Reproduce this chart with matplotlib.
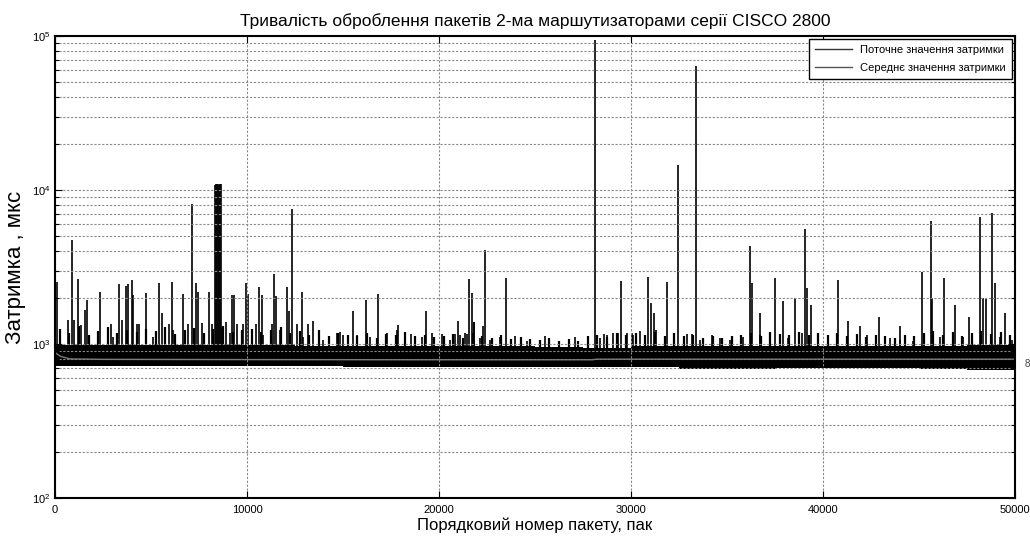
import matplotlib
matplotlib.use("Agg")
import matplotlib.pyplot as plt
from matplotlib.lines import Line2D
from matplotlib.ticker import LogLocator, NullFormatter, FixedLocator
import numpy as np

plt.rcParams['font.family'] = ['Liberation Sans', 'DejaVu Sans']

# ---------------- data ----------------
title = "Тривалість оброблення пакетів 2-ма маршутизаторами серії CISCO 2800"
xlabel = "Порядковий номер пакету, пак"
ylabel = "Затримка , мкс"
legend_labels = ["Поточне значення затримки", "Середнє значення затримки"]
x_ticks = [0, 10000, 20000, 30000, 40000, 50000]

# dense noise band, per 2500-packet bin (edges 0..50000)
band_edges = [0, 2500, 5000, 7500, 10000, 12500, 15000, 17500, 20000, 22500,
              25000, 27500, 30000, 32500, 35000, 37500, 40000, 42500, 45000,
              47500, 50000]
band_low = [715, 715, 715, 718, 715, 715, 712, 712, 710, 708,
            705, 708, 705, 690, 685, 700, 700, 698, 688, 680]
band_high = [990, 985, 985, 980, 980, 975, 970, 970, 975, 965,
             955, 945, 970, 975, 970, 975, 975, 970, 975, 980]

# upper fringe of the noise, one value per 500-packet bin (centres 250, 750, ...)
fringe_y = [1250, 1180, 1300, 1150, 1220, 1280, 1170, 1240, 1190, 1260,
            1210, 1290, 1160, 1230, 1270, 1180, 1250, 1300, 1200, 1240,
            1260, 1190, 1230, 1280, 1170, 1220, 1150, 1240, 1130, 1180,
            1150, 1120, 1180, 1100, 1160, 1140, 1190, 1120, 1150, 1110,
            1130, 1160, 1100, 1180, 1120, 1090, 1140, 1080, 1110, 1070,
            1060, 1100, 1040, 1080, 1050, 1120, 1150, 1110, 1170, 1140,
            1180, 1150, 1200, 1130, 1170, 1120, 1150, 1090, 1130, 1100,
            1120, 1150, 1180, 1130, 1200, 1160, 1140, 1190, 1150, 1170,
            1140, 1180, 1120, 1160, 1110, 1150, 1130, 1100, 1140, 1120,
            1170, 1210, 1150, 1190, 1130, 1180, 1220, 1160, 1200, 1150]

# mean (running average) line
mean_x = [0, 300, 800, 2500, 10000, 20000, 28000, 28200, 35000, 50000]
mean_y = [880, 830, 800, 795, 792, 790, 790, 797, 797, 797]

# large spikes (packet number, delay)
spike_x = [90, 870, 1215, 1650, 2340, 3330, 3680, 3780, 3990, 4080, 4720,
           5420, 6080, 6680, 7150, 7330, 7470, 8020,
           8330, 8380, 8430, 8480, 8530, 8580, 8620,
           9240, 9340, 9930, 10030, 10640, 10760, 11400, 11500, 12080, 12170,
           12360, 12850, 13420, 15500, 16200, 16840, 17850, 19320, 20970,
           21580, 21700, 21820, 22400, 23490, 28130, 29480, 30870, 31040,
           31200, 31870, 32470, 33380, 36200, 36300, 36700, 37500, 37900,
           38550, 39050, 39150, 39400, 40780, 41320, 42900, 44000, 45150,
           45600, 45700, 46300, 46900, 47600, 48200, 48350, 48500, 48800,
           48950, 49500]
spike_y = [2540, 4730, 2640, 1930, 2190, 2450, 2380, 2450, 2600, 2090, 2140,
           2480, 2520, 2120, 8110, 2480, 2190, 2190,
           10700, 10900, 10950, 10900, 10850, 10950, 10900,
           2090, 2090, 2480, 2120, 2330, 2090, 2830, 2060, 2330, 1650,
           7500, 2190, 1400, 1630, 1930, 2120, 1330, 1630, 1400,
           2640, 2140, 1380, 4070, 2700, 94000, 2580, 2730, 1850,
           1600, 2520, 14500, 63500, 4330, 2500, 1600, 2700, 1900,
           2000, 5600, 2300, 1800, 2600, 1400, 1500, 1300, 2950,
           6300, 2000, 2700, 1800, 1500, 6700, 2000, 2000, 7100,
           2500, 1600]

# medium spikes just above the band
mid_x = [660, 1010, 1350, 1560, 2900, 3040, 3470, 4250, 4370, 5120, 5560,
         5940, 6160, 6940, 7640, 8160, 8720, 8900, 9110, 9460, 9810, 10470,
         10850, 11290, 11720, 12590, 12930, 13160, 13970, 14670, 14840,
         15020, 15710, 16400, 17270, 17790, 18540, 19100, 19620, 20140,
         20570, 20830, 21090, 21350, 21470, 21840, 22140, 22310, 22660,
         23180, 23960, 24570, 25520, 27080, 28390, 28610, 28730, 29080,
         29340, 29770, 30030, 30120, 30470, 31300, 32900, 33160, 33590,
         34200, 34640, 35160, 35850, 36720, 37240, 38190, 38890, 40710,
         41930, 42270, 43490, 44010, 44700, 46090, 46790, 47310, 49220,
         49830]
mid_y = [1430, 1430, 1330, 1660, 1340, 1116, 1430, 1350, 1350, 1116, 1600,
         1350, 1233, 1350, 1360, 1350, 1290, 1380, 1174, 1350, 1350, 1350,
         1140, 1340, 1233, 1340, 1116, 1350, 1062, 1174, 1200,
         1140, 1140, 1116, 1174, 1233, 1160, 1116, 1174, 1160,
         1062, 1160, 1140, 1174, 1160, 1380, 1090, 1310, 1062,
         1116, 1120, 1040, 1130, 1116, 1090, 1160, 1140, 1170,
         1170, 1174, 1170, 1140, 1210, 1240, 1160, 1160, 1062,
         1140, 1090, 1062, 1116, 1140, 1140, 1090, 1174, 1140,
         1300, 1140, 1090, 1062, 1040, 1116, 1140, 1116, 1116,
         1062]

# ---------------- figure ----------------
fig = plt.figure(figsize=(10.30, 5.38), dpi=100)
ax = fig.add_axes([55/1030, 1 - 498/538, 960/1030, 462/538])

ax.set_yscale('log')
ax.set_xlim(0, 50000)
ax.set_ylim(100, 100000)

# band
ax.fill_between(band_edges, band_low + [band_low[-1]], band_high + [band_high[-1]],
                step='post', color='black', lw=0, zorder=2)
fringe_x = [250 + 500 * i for i in range(len(fringe_y))]
ax.vlines(fringe_x, 900, fringe_y, color='black', lw=1.6, zorder=2)
# medium and large spikes
ax.vlines(mid_x, 900, mid_y, color='black', lw=1.2, zorder=2)
ax.vlines(spike_x, 900, spike_y, color='black', lw=1.2, zorder=2)
# mean line
ax.plot(mean_x, mean_y, color='#7a7a7a', lw=1.0, zorder=3)

# grid on top (MATLAB style)
ax.set_axisbelow(False)
ax.xaxis.set_major_locator(FixedLocator(x_ticks))
ax.set_xticklabels([str(v) for v in x_ticks])
ax.yaxis.set_major_locator(LogLocator(base=10, numticks=10))
ax.yaxis.set_minor_locator(LogLocator(base=10, subs=np.arange(2, 10), numticks=10))
ax.yaxis.set_minor_formatter(NullFormatter())
ax.grid(True, which='major', axis='both', color='#8a8a8a', ls=(0, (2, 1.5)), lw=0.8, zorder=4)
ax.grid(True, which='minor', axis='y', color='#8a8a8a', ls=(0, (2, 1.5)), lw=0.8, zorder=4)

ax.tick_params(which='both', direction='in', top=True, right=True, labelsize=8, width=0.8)
ax.tick_params(which='major', length=5)
ax.tick_params(which='minor', length=3)
ax.tick_params(axis='x', pad=5)
for s in ax.spines.values():
    s.set_linewidth(1.5)
    s.set_color('black')
    s.set_zorder(5)

ax.set_title(title, fontsize=12.5, pad=7)
ax.set_xlabel(xlabel, fontsize=12, labelpad=2)
ax.set_ylabel(ylabel, fontsize=16, labelpad=4)

handles = [Line2D([0], [0], color='#333333', lw=1.0),
           Line2D([0], [0], color='#555555', lw=1.0)]
leg = ax.legend(handles, legend_labels, loc='upper right', fontsize=8,
                frameon=True, fancybox=False, framealpha=1, edgecolor='black',
                borderaxespad=0.25, handlelength=3.3, handletextpad=0.8,
                labelspacing=0.75, borderpad=0.55)
leg.get_frame().set_linewidth(1.0)
leg.set_zorder(6)

fig.text(1027/1030, 1 - 364/538, '8', fontsize=7, color='#444444', ha='center', va='center')

fig.savefig('out.png', dpi=100)
